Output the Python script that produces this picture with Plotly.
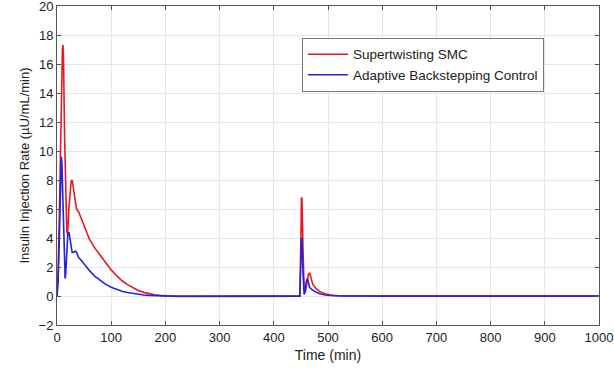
import plotly.graph_objects as go

# Supertwisting SMC (red)
t_smc = [0, 2, 4, 6, 8, 10, 11, 12, 14, 16, 18, 19, 20, 22, 24, 26, 28, 30, 32, 34, 36, 38, 40, 42, 45,
         50, 55, 60, 70, 80, 90, 100, 110, 120, 130, 140, 150, 160, 170, 180, 190, 200, 220, 250, 300,
         400, 448, 450, 451, 452, 454, 456, 458, 461, 464, 466, 468, 472, 478, 485, 495, 505, 520, 540,
         600, 700, 800, 900, 1000]
u_smc = [0, 1.5, 5, 10, 14.5, 17.0, 17.3, 16.5, 11, 6.5, 4.5, 4.3, 4.6, 6.0, 7.2, 7.9, 8.0, 7.5, 6.8, 6.2,
         6.0, 5.9, 5.8, 5.6, 5.3, 4.8, 4.3, 3.9, 3.3, 2.8, 2.3, 1.8, 1.4, 1.05, 0.78, 0.55, 0.38, 0.25,
         0.15, 0.08, 0.04, 0.01, -0.03, -0.03, -0.02, -0.02, -0.02, 4.0, 6.8, 6.7, 3.0, 0.5, 0.3, 1.0,
         1.5, 1.6, 1.3, 0.8, 0.5, 0.3, 0.15, 0.07, 0.02, 0.0, -0.01, -0.01, -0.01, -0.01, -0.01]

# Adaptive Backstepping Control (blue)
t_abc = [0, 2, 4, 6, 7, 8, 9, 10, 12, 14, 15, 16, 18, 20, 22, 24, 26, 28, 30, 32, 34, 36, 38, 40, 45,
         50, 55, 60, 70, 80, 90, 100, 110, 120, 130, 140, 150, 160, 170, 180, 200, 250, 300, 400,
         448, 450, 451, 452, 454, 456, 458, 460, 462, 464, 466, 470, 476, 485, 495, 510, 530,
         600, 700, 800, 900, 1000]
u_abc = [0, 1, 3.5, 7, 9, 9.6, 9.2, 7.5, 4, 1.8, 1.2, 1.5, 3, 4.3, 4.4, 3.8, 3.2, 3.0, 3.0, 3.05, 3.1,
         3.0, 2.8, 2.65, 2.45, 2.2, 1.95, 1.75, 1.35, 1.05, 0.8, 0.6, 0.45, 0.33, 0.24, 0.17, 0.11,
         0.07, 0.04, 0.02, 0.0, -0.01, -0.01, -0.01,
         -0.01, 2.5, 4.0, 3.8, 1.5, 0.1, 0.3, 1.0, 1.2, 0.9, 0.6, 0.45, 0.3, 0.15, 0.07, 0.02, 0.0,
         0.0, 0.0, 0.0, 0.0, 0.0]

x_ticks = [0, 100, 200, 300, 400, 500, 600, 700, 800, 900, 1000]
y_ticks = [-2, 0, 2, 4, 6, 8, 10, 12, 14, 16, 18, 20]

fig = go.Figure()
fig.add_trace(go.Scatter(x=t_smc, y=u_smc, mode="lines", name="Supertwisting SMC",
                         line=dict(color="#e31a22", width=1.6)))
fig.add_trace(go.Scatter(x=t_abc, y=u_abc, mode="lines", name="Adaptive Backstepping Control",
                         line=dict(color="#2222d6", width=1.6)))

axis_common = dict(showgrid=True, gridcolor="#e6e6e6", gridwidth=1, zeroline=False,
                   showline=True, linecolor="#555555", linewidth=1, mirror="ticks",
                   ticks="inside", ticklen=4, tickcolor="#555555", ticklabeloverflow="allow",
                   tickfont=dict(family="Liberation Sans, Arial", size=13, color="#222222"))

fig.update_layout(
    width=614, height=370,
    margin=dict(l=57, r=15, t=6, b=45),
    paper_bgcolor="white", plot_bgcolor="white",
    font=dict(family="Liberation Sans, Arial", color="#222222"),
    xaxis=dict(range=[0, 1000], tickvals=x_ticks, automargin=False,
               title=dict(text="Time (min)", font=dict(size=14), standoff=6), **axis_common),
    yaxis=dict(range=[-2, 20], tickvals=y_ticks, automargin=False,
               title=dict(text="Insulin Injection Rate (µU/mL/min)", font=dict(size=13), standoff=6),
               **axis_common),
    legend=dict(x=0.452, y=0.9, xanchor="left", yanchor="top",
                bgcolor="white", bordercolor="#777777", borderwidth=1,
                font=dict(family="Liberation Sans, Arial", size=13.5, color="#222222"),
                tracegroupgap=0, itemwidth=40),
    showlegend=True,
)

fig.write_html("out.html")
